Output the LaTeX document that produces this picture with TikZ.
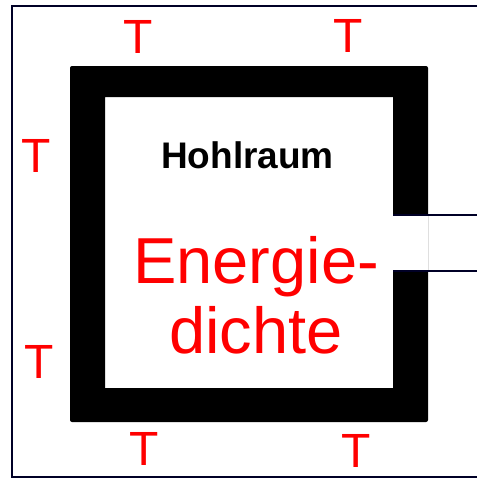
\documentclass[tikz,border=0pt]{standalone}
\usepackage{fontspec}
\setmainfont{Liberation Sans}
\begin{document}
\begin{tikzpicture}[x=1pt,y=-1pt,
  temp/.style={text=red,font=\fontsize{48}{48}\selectfont,inner sep=0pt,anchor=base},
  frame/.style={draw=black!85!blue,line width=2pt},
  wall/.style={fill=black,even odd rule},
  channel/.style={draw=black!85!blue,line width=1.5pt}]
\useasboundingbox (0,0) rectangle (477,479);
% outer frame (open at right)
\draw[frame] (477,6) -- (12,6) -- (12,477) -- (477,477);
% thick cavity wall with opening
\fill[wall] [rounded corners=2pt] (70,66) rectangle (428,422) [sharp corners]
  (105,97) -- (393,97) -- (393,215) -- (428,215) -- (428,271) -- (393,271) -- (393,388) -- (105,388) -- cycle;
\coordinate (c1a) at (393,215);
\coordinate (c1b) at (477,215);
\coordinate (c2a) at (393,271);
\coordinate (c2b) at (477,271);
\draw[channel] (c1a) -- (c1b);
\draw[channel] (c2a) -- (c2b);
% labels
\node[temp] (t1) at (138,53) {T};
\node[temp] (t2) at (348.5,52) {T};
\node[temp] (t3) at (36.5,172) {T};
\node[temp] (t4) at (39,378) {T};
\node[temp] (t5) at (144,465) {T};
\node[temp] (t6) at (356,467) {T};
\node[font=\fontsize{37}{37}\selectfont\bfseries,inner sep=0pt,anchor=base] (hr) at (247.5,168) {Hohlraum};
\node[text=red,font=\fontsize{65}{70}\selectfont,inner sep=0pt,align=center,anchor=base] (ed) at (256,353) {Energie-\\dichte};
\end{tikzpicture}
\end{document}
